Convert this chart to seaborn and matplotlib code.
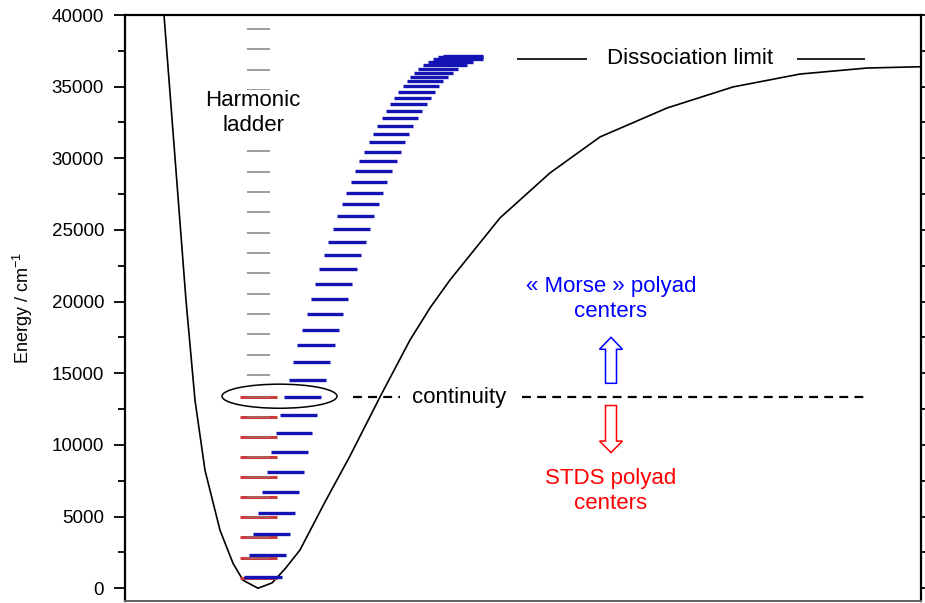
import matplotlib
matplotlib.use("Agg")
import matplotlib.pyplot as plt
from matplotlib.patches import Ellipse, FancyArrow
from matplotlib.ticker import MultipleLocator, NullLocator
import seaborn as sns

# Potential curve (x: arbitrary distance units, E: cm-1)
curve_x = [39, 61, 70, 80, 95, 108, 118, 133, 147, 160, 175, 200, 225, 255,
           285, 305, 325, 375, 425, 475, 542, 608, 675, 742, 796]
curve_e = [40000, 20090, 13120, 8230, 4050, 1740, 560, 0, 370, 1350, 2670,
           6020, 9230, 13350, 17320, 19560, 21510, 25840, 28980, 31490, 33510,
           34980, 35880, 36300, 36390]

# Harmonic ladder (grey) and STDS polyad centers (red)
stds_e = [700, 2090, 3560, 4950, 6350, 7740, 9140, 10540, 11930, 13330]
harmonic_e = [14860, 16260, 17720, 19120, 20510, 21980, 23370, 24770, 26230,
              27630, 29020, 30490, 31890, 33350, 34750, 36140, 37610, 39000]

# "Morse" polyad centers (blue): energy and horizontal extent
morse_e = [770, 2300, 3770, 5230, 6700, 8090, 9490, 10810, 12070, 13330,
           14550, 15790, 16950, 18050, 19170, 20210, 21260, 22280, 23230,
           24160, 25050, 25960, 26790, 27610, 28350, 29090, 29790, 30460,
           31140, 31720, 32260, 32810, 33300, 33770, 34210, 34630, 35030,
           35370, 35670, 35980, 36260, 36490, 36720, 36960, 37060, 37120]
morse_left = [119, 124, 128, 133, 137, 142, 146, 151, 155, 159, 164, 168, 172,
              177, 182, 186, 190, 194, 199, 203, 208, 212, 217, 221, 226, 230,
              234, 239, 244, 248, 252, 257, 261, 265, 269, 273, 278, 282, 285,
              289, 293, 298, 303, 308, 313, 318]
morse_right = [157, 161, 165, 170, 174, 179, 183, 187, 192, 196, 201, 205, 210,
               214, 218, 223, 227, 232, 236, 241, 245, 249, 254, 258, 262, 267,
               272, 276, 280, 284, 288, 293, 297, 302, 306, 310, 314, 318, 323,
               328, 333, 342, 348, 358, 358, 358]

CONTINUITY_E = 13330
DISSOC_E = 36960

sns.set_style("ticks")
plt.rcParams['font.family'] = ['Liberation Sans', 'DejaVu Sans']
plt.rcParams['text.color'] = 'black'
plt.rcParams['axes.labelcolor'] = 'black'

fig = plt.figure(figsize=(9.25, 6.03), dpi=100)
ax = fig.add_axes([125 / 925, 2 / 603, 796 / 925, 586 / 603])

# potential energy curve
sns.lineplot(x=curve_x, y=curve_e, ax=ax, color='black', linewidth=1.2,
             sort=False, estimator=None, zorder=3)

# ladders
ax.hlines(stds_e, 115, 152, color='#c83c3c', linewidth=2.2, zorder=4)
ax.hlines(stds_e, 122, 145, color='#8c8c8c', linewidth=1.2, alpha=0.45,
          zorder=5)
ax.hlines(harmonic_e, 122, 145, color='#8c8c8c', linewidth=1.2, zorder=5)
ax.hlines(morse_e, morse_left, morse_right, color='#1414b4', linewidth=2.4,
          zorder=6)

ax.text(128, 33140, "Harmonic\nladder", fontsize=16, ha='center', va='center',
        linespacing=1.25, zorder=7,
        bbox=dict(facecolor='white', edgecolor='none', pad=0.5))

# continuity marker
ax.add_patch(Ellipse((154.5, 13400), 115, 1680, facecolor='none',
                     edgecolor='black', linewidth=1.1, zorder=7))
ax.hlines(CONTINUITY_E, 228, 275, color='black', linewidth=1.6,
          linestyles=(0, (4, 2.8)), zorder=3)
ax.hlines(CONTINUITY_E, 397, 743, color='black', linewidth=1.6,
          linestyles=(0, (4, 2.8)), zorder=3)
ax.text(334, CONTINUITY_E, "continuity", fontsize=16, ha='center',
        va='center')

# dissociation limit
ax.hlines(DISSOC_E, 392, 462, color='black', linewidth=1.2)
ax.hlines(DISSOC_E, 672, 740, color='black', linewidth=1.2)
ax.text(565, DISSOC_E, "Dissociation limit", fontsize=16, ha='center',
        va='center')

# polyad centre arrows and labels
ax.add_patch(FancyArrow(486, 14300, 0, 3210, width=11, head_width=23,
                        head_length=840, length_includes_head=True,
                        facecolor='white', edgecolor='#0000ff', linewidth=1.1))
ax.add_patch(FancyArrow(486, 12750, 0, -3280, width=11, head_width=23,
                        head_length=800, length_includes_head=True,
                        facecolor='white', edgecolor='#ff0000', linewidth=1.1))
ax.text(486, 20160, "« Morse » polyad\ncenters", fontsize=16, ha='center',
        va='center', color='#0000ff', linespacing=1.25)
ax.text(486, 6820, "STDS polyad\ncenters", fontsize=16, ha='center',
        va='center', color='#ff0000', linespacing=1.25)

# axes styling
ax.set_xlim(0, 796)
ax.set_ylim(-890, 40000)
ax.xaxis.set_major_locator(NullLocator())
ax.yaxis.set_major_locator(MultipleLocator(5000))
ax.yaxis.set_minor_locator(MultipleLocator(2500))
ax.tick_params(axis='y', which='both', left=True, right=True, direction='out',
               width=1.3, labelsize=13.5, colors='black')
ax.tick_params(axis='y', which='major', length=8, pad=7)
ax.tick_params(axis='y', which='minor', length=5)
ax.set_ylabel("Energy / cm$^{\\mathregular{-1}}$", fontsize=13, labelpad=12)
for side in ['left', 'right', 'top']:
    ax.spines[side].set_linewidth(1.6)
    ax.spines[side].set_color('black')
ax.spines['bottom'].set_linewidth(1.4)
ax.spines['bottom'].set_color('#606060')

fig.savefig("out.png", dpi=100)
